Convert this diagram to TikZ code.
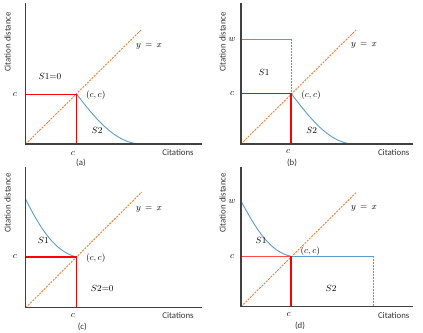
\documentclass[tikz,border=0pt]{standalone}
\usepackage{fontspec}
\newfontfamily\axfont{Carlito}
\definecolor{axgray}{HTML}{404040}
\definecolor{diagor}{HTML}{ED7D31}
\definecolor{redc}{HTML}{FF0000}
\definecolor{bluec}{HTML}{5B9BD5}
\begin{document}
\begin{tikzpicture}[x=1pt,y=-1pt,
  axis/.style={draw=axgray,line width=1.5pt},
  diag/.style={draw=diagor,line width=0.9pt,dash pattern=on 2pt off 1.2pt},
  redl/.style={draw=redc,line width=1.1pt},
  bluel/.style={draw=bluec,line width=0.9pt},
  bluedash/.style={bluel,dash pattern=on 2pt off 1pt},
  lab/.style={inner sep=0pt,font=\fontsize{9}{10}\selectfont},
  axlab/.style={inner sep=0pt,text=axgray!80!black,font=\axfont\fontsize{8.8}{10}\selectfont},
]
\useasboundingbox (0,0) rectangle (423,332);
% ---------- panel (a)
\coordinate (aO) at (25.7,144);
\coordinate (aT) at (25.7,3);
\coordinate (aR) at (202,144);
\coordinate (aC) at (76.7,94.3);
\coordinate (aCy) at (25.7,94.3);
\coordinate (aCx) at (76.7,144);
\coordinate (aD) at (141.7,29.3);
\coordinate (aE) at (140,144);
\draw[diag] (aO) -- (aD);
\draw[bluel] (aC) .. controls (95,118) and (115,143) .. (aE);
\draw[redl] (aCy) -- (aC) -- (aCx);
\draw[axis] (aT) -- (aO) -- (aR);
\node[lab] (ayx) at (149,46.7) {$y\,=\,x$};
\node[lab] (as1) at (50,76) {$S1{=}0$};
\node[lab] (acc) at (95.7,95) {$(c,c)$};
\node[lab] (as2) at (97,130.7) {$S2$};
\node[lab] (acy) at (15,94.3) {$c$};
\node[lab] (acx) at (73,154) {$c$};
\node[axlab] (acit) at (178,152.7) {Citations};
\node[axlab,rotate=90] (ady) at (7.5,42) {Citation distance};
\node[axlab] (acap) at (81,163) {(a)};
% ---------- panel (b)
\coordinate (bO) at (241,144);
\coordinate (bT) at (241,3);
\coordinate (bR) at (413,144);
\coordinate (bC) at (291,93.3);
\coordinate (bCy) at (241,93.3);
\coordinate (bCx) at (291,144);
\coordinate (bW) at (241,39.3);
\coordinate (bWc) at (291,39.3);
\coordinate (bD) at (356.7,29.3);
\coordinate (bE) at (352.7,144);
\draw[diag] (bO) -- (bD);
\draw[bluel] (bC) .. controls (309,117) and (329,143) .. (bE);
\draw[bluel] (bW) -- (bWc);
\draw[bluedash] (bWc) -- (bC);
\draw[redl] (bCy) -- (bC) -- (bCx);
\draw[axis] (bT) -- (bO) -- (bR);
\node[lab] (byx) at (364,45.7) {$y\,=\,x$};
\node[lab] (bs1) at (264,72.7) {$S1$};
\node[lab] (bcc) at (311,95) {$(c,c)$};
\node[lab] (bs2) at (311.7,130) {$S2$};
\node[lab] (bwy) at (232,39.3) {$w$};
\node[lab] (bcy) at (232,93.3) {$c$};
\node[lab] (bcx) at (288,151.7) {$c$};
\node[axlab] (bcit) at (393.7,152.7) {Citations};
\node[axlab,rotate=90] (bdy) at (222.5,42) {Citation distance};
\node[axlab] (bcap) at (292,163) {(b)};
% ---------- panel (c)
\coordinate (cO) at (25.7,307.7);
\coordinate (cT) at (25.7,167);
\coordinate (cR) at (202,307.7);
\coordinate (cC) at (76.7,257);
\coordinate (cCy) at (25.7,257);
\coordinate (cCx) at (76.7,307.7);
\coordinate (cW) at (25.7,199.3);
\coordinate (cD) at (141.7,192);
\draw[diag] (cO) -- (cD);
\draw[bluel] (cW) .. controls (40,228) and (55,252) .. (cC);
\draw[redl] (cCy) -- (cC) -- (cCx);
\draw[axis] (cT) -- (cO) -- (cR);
\node[lab] (cyx) at (149,209.3) {$y\,=\,x$};
\node[lab] (cs1) at (43.3,240) {$S1$};
\node[lab] (ccc) at (95.7,258.3) {$(c,c)$};
\node[lab] (cs2) at (102.3,288.7) {$S2{=}0$};
\node[lab] (ccy) at (15,257) {$c$};
\node[lab] (ccx) at (73,315.3) {$c$};
\node[axlab] (ccit) at (178,315) {Citations};
\node[axlab,rotate=90] (cdy) at (7.5,203) {Citation distance};
\node[axlab] (ccap) at (82.3,327) {(c)};
% ---------- panel (d)
\coordinate (dO) at (241,306.7);
\coordinate (dT) at (241,167);
\coordinate (dR) at (413,306.7);
\coordinate (dC) at (291,256.3);
\coordinate (dCy) at (241,256.3);
\coordinate (dCx) at (291,306.7);
\coordinate (dW) at (241,201);
\coordinate (dE) at (373.3,256.3);
\coordinate (dEx) at (373.3,306.7);
\coordinate (dD) at (356.7,192);
\draw[diag] (dO) -- (dD);
\draw[bluel] (dW) .. controls (256,229) and (270,252) .. (dC);
\draw[bluel] (dC) -- (dE);
\draw[bluedash] (dE) -- (dEx);
\draw[redl,draw=redc!70,line width=1.5pt] (dCy) -- (dC);
\draw[redl] (dC) -- (dCx);
\draw[axis] (dT) -- (dO) -- (dR);
\node[lab] (dyx) at (364,208.7) {$y\,=\,x$};
\node[lab] (ds1) at (261,240) {$S1$};
\node[lab] (dcc) at (310.3,251) {$(c,c)$};
\node[lab] (ds2) at (331,288.3) {$S2$};
\node[lab] (dwy) at (232,201.7) {$w$};
\node[lab] (dcy) at (232,257) {$c$};
\node[lab] (dcx) at (288.7,315) {$c$};
\node[axlab] (dcit) at (393.7,315) {Citations};
\node[axlab,rotate=90] (ddy) at (222.5,203) {Citation distance};
\node[axlab] (dcap) at (300,325.7) {(d)};
\end{tikzpicture}
\end{document}
